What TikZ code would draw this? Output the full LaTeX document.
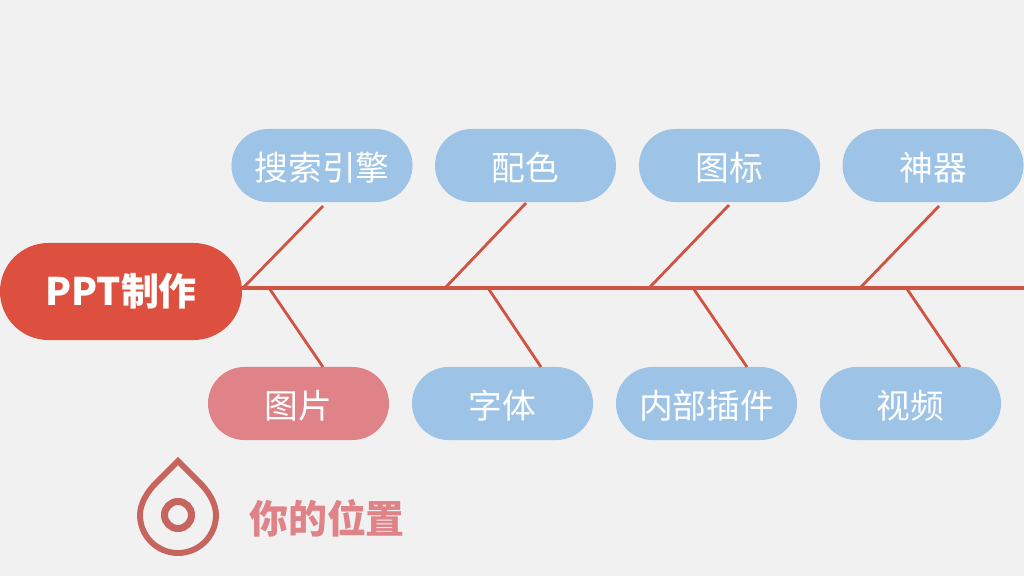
\documentclass[tikz,border=0pt]{standalone}
\usepackage{fontspec}
\setmainfont{Noto Sans CJK SC}
\usepackage{tikz}
\usetikzlibrary{shapes.misc}
\definecolor{paper}{HTML}{F2F1F2}
\definecolor{topicblue}{HTML}{9DC3E6}
\definecolor{headred}{HTML}{DD4F3F}
\definecolor{herepink}{HTML}{E08388}
\definecolor{boneline}{HTML}{CF5444}
\definecolor{dropline}{HTML}{C5655D}
\tikzset{topic/.style={shape=rounded rectangle, fill=topicblue, text=white,
    inner sep=0pt, minimum width=4.525cm, minimum height=1.825cm,
    text height=24pt, text depth=2.9pt,
    font=\fontsize{24}{28}\selectfont}}
\tikzset{headbox/.style={shape=rounded rectangle, fill=headred, text=white,
    inner sep=0pt, minimum width=6.05cm, minimum height=2.425cm,
    font=\fontsize{27}{32}\selectfont\bfseries}}
\tikzset{bone/.style={draw=boneline, line width=2pt}}
\begin{document}
\begin{tikzpicture}[x=.025cm, y=-.025cm]
    \tikzstyle{spine}=[draw=boneline, line width=2.4pt]
    \path[fill=paper, use as bounding box] (0,0) rectangle (1024,576);
    \node[headbox] (head) at (121,291.5) {PPT制作};
    \node[topic] (engine) at (322,165.5) {搜索引擎};
    \node[topic] (palette) at (525.5,165.5) {配色};
    \node[topic] (icons) at (729.5,165.5) {图标};
    \node[topic] (tools) at (933,165.5) {神器};
    \node[topic, fill=herepink] (images) at (298.5,403.5) {图片};
    \node[topic] (typeface) at (502.5,403.5) {字体};
    \node[topic] (plugins) at (706.5,403.5) {内部插件};
    \node[topic] (video) at (910.5,403.5) {视频};
    \coordinate (tail) at (1024,288);
    \coordinate (j1) at (243,288);
    \coordinate (j2) at (446,287);
    \coordinate (j3) at (650,287);
    \coordinate (j4) at (860,288);
    \coordinate (k1) at (269,288);
    \coordinate (k2) at (488,288);
    \coordinate (k3) at (693,288);
    \coordinate (k4) at (907,289);
    \coordinate (e1) at (323,206);
    \coordinate (e2) at (526,203);
    \coordinate (e3) at (729,205);
    \coordinate (e4) at (939,206);
    \coordinate (f1) at (323,367);
    \coordinate (f2) at (541,367);
    \coordinate (f3) at (747,367);
    \coordinate (f4) at (960,367);
    \path[spine] (head.east |- tail) -- (tail);
    \path[bone] (j1) -- (e1);
    \path[bone] (j2) -- (e2);
    \path[bone] (j3) -- (e3);
    \path[bone] (j4) -- (e4);
    \path[bone] (k1) -- (f1);
    \path[bone] (k2) -- (f2);
    \path[bone] (k3) -- (f3);
    \path[bone] (k4) -- (f4);
    % drop
    \draw[dropline, line width=4.2pt, line join=miter]
      (178,461) -- (156,483)
      .. controls (148,491) and (140,503) .. (140,515)
      .. controls (140,536) and (157,553) .. (178,553)
      .. controls (199,553) and (216,536) .. (216,515)
      .. controls (216,503) and (208,491) .. (200,483) -- cycle;
    \node[draw=dropline, line width=5pt, shape=circle, inner sep=0pt,
      minimum size=.675cm] (ring) at (178,515) {};
    \node[text=herepink, font=\fontsize{27.7}{32}\selectfont\bfseries] (here) at (327,518) {你的位置};
\end{tikzpicture}
\end{document}
